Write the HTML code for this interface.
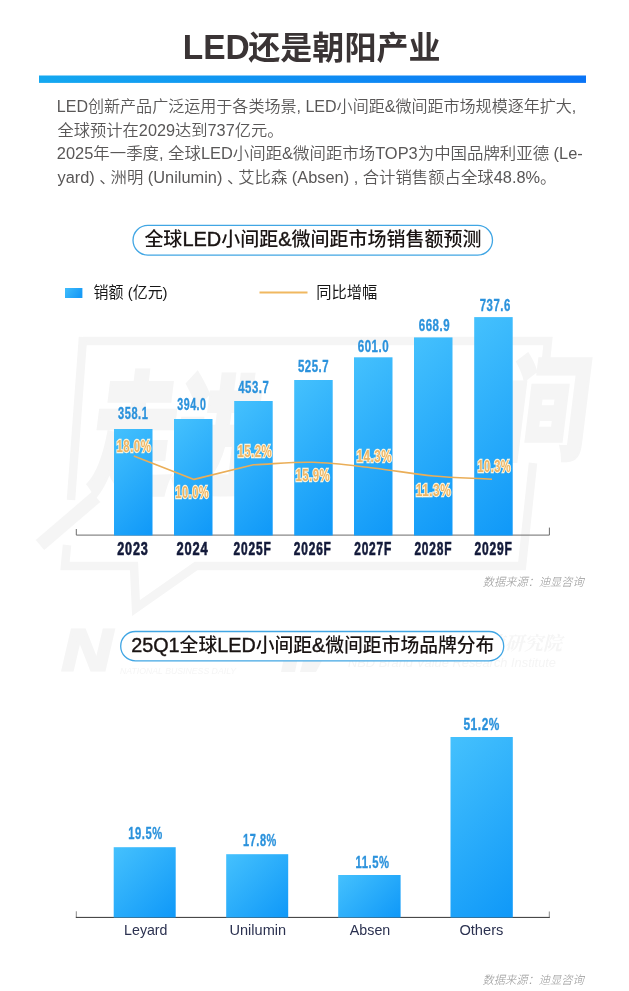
<!DOCTYPE html>
<html lang="zh-CN">
<head>
<meta charset="utf-8">
<title>LED还是朝阳产业</title>
<style>
html,body{margin:0;padding:0;background:#fff;}
body{width:629px;height:991px;overflow:hidden;position:relative;}
svg{position:absolute;left:0;top:0;display:block;}
.sans{font-family:"Liberation Sans","Noto Sans CJK SC",sans-serif;}
.title{font-weight:700;font-size:32px;fill:#3a3435;}
.para{font-size:15.8px;fill:#595757;font-weight:350;}
.pill{font-size:19px;fill:#1a1413;font-weight:500;}
.lt{stroke:#1a1413;stroke-width:.4;font-size:20px;}
.leg{font-size:15.4px;fill:#161616;}
.val{font-weight:700;font-size:16.8px;fill:#2b92dc;stroke:#2b92dc;stroke-width:.35;letter-spacing:.8px;}
.yr{font-weight:700;font-size:17.6px;fill:#131a3a;stroke:#131a3a;stroke-width:.6;letter-spacing:1.2px;}
.pct{font-weight:700;font-size:16.8px;fill:#ecb566;stroke:#fff4da;stroke-width:2.3;paint-order:stroke fill;letter-spacing:.7px;}
.cat{font-size:14.5px;fill:#2b3150;}
.src{font-size:11.6px;fill:#979797;font-style:italic;font-weight:300;}
</style>
</head>
<body>
<svg class="sans" width="629" height="991" viewBox="0 0 629 991">
<defs>
<linearGradient id="hb" x1="0" y1="0" x2="1" y2="0">
<stop offset="0" stop-color="#14a8f0"/><stop offset="1" stop-color="#0a74f6"/>
</linearGradient>
<linearGradient id="bar" x1="0" y1="0" x2="0.3" y2="1">
<stop offset="0" stop-color="#45c1fd"/><stop offset="1" stop-color="#0f98f8"/>
</linearGradient>
<linearGradient id="lg" x1="0" y1="0" x2="1" y2="0.4">
<stop offset="0" stop-color="#40bdfc"/><stop offset="1" stop-color="#189bf6"/>
</linearGradient>
<linearGradient id="b1" gradientUnits="userSpaceOnUse" x1="97.0" y1="446.0" x2="169.5" y2="518.5"><stop offset="0" stop-color="#45c1fd"/><stop offset="1" stop-color="#0f98f8"/></linearGradient>
<linearGradient id="b2" gradientUnits="userSpaceOnUse" x1="154.5" y1="438.5" x2="232.0" y2="516.0"><stop offset="0" stop-color="#45c1fd"/><stop offset="1" stop-color="#0f98f8"/></linearGradient>
<linearGradient id="b3" gradientUnits="userSpaceOnUse" x1="210.2" y1="425.0" x2="296.7" y2="511.5"><stop offset="0" stop-color="#45c1fd"/><stop offset="1" stop-color="#0f98f8"/></linearGradient>
<linearGradient id="b4" gradientUnits="userSpaceOnUse" x1="264.9" y1="409.2" x2="361.9" y2="506.2"><stop offset="0" stop-color="#45c1fd"/><stop offset="1" stop-color="#0f98f8"/></linearGradient>
<linearGradient id="b5" gradientUnits="userSpaceOnUse" x1="319.1" y1="392.2" x2="427.4" y2="500.6"><stop offset="0" stop-color="#45c1fd"/><stop offset="1" stop-color="#0f98f8"/></linearGradient>
<linearGradient id="b6" gradientUnits="userSpaceOnUse" x1="374.1" y1="377.3" x2="492.4" y2="495.6"><stop offset="0" stop-color="#45c1fd"/><stop offset="1" stop-color="#0f98f8"/></linearGradient>
<linearGradient id="b7" gradientUnits="userSpaceOnUse" x1="429.2" y1="362.1" x2="557.7" y2="490.5"><stop offset="0" stop-color="#45c1fd"/><stop offset="1" stop-color="#0f98f8"/></linearGradient>
<linearGradient id="b8" gradientUnits="userSpaceOnUse" x1="111.6" y1="849.3" x2="177.8" y2="915.4"><stop offset="0" stop-color="#45c1fd"/><stop offset="1" stop-color="#0f98f8"/></linearGradient>
<linearGradient id="b9" gradientUnits="userSpaceOnUse" x1="225.9" y1="854.5" x2="288.5" y2="917.2"><stop offset="0" stop-color="#45c1fd"/><stop offset="1" stop-color="#0f98f8"/></linearGradient>
<linearGradient id="b10" gradientUnits="userSpaceOnUse" x1="343.2" y1="870.0" x2="395.6" y2="922.5"><stop offset="0" stop-color="#45c1fd"/><stop offset="1" stop-color="#0f98f8"/></linearGradient>
<linearGradient id="b11" gradientUnits="userSpaceOnUse" x1="420.9" y1="766.5" x2="542.4" y2="888.0"><stop offset="0" stop-color="#45c1fd"/><stop offset="1" stop-color="#0f98f8"/></linearGradient>
</defs>
<rect width="629" height="991" fill="#fff"/>

<!-- header -->
<text class="title" y="59"><tspan x="182.8" font-size="35" textLength="67" lengthAdjust="spacingAndGlyphs">LED</tspan><tspan x="248.3" textLength="192.2" lengthAdjust="spacingAndGlyphs">还是朝阳产业</tspan></text>
<rect x="39" y="75.5" width="547" height="7.4" fill="url(#hb)"/>

<!-- paragraph -->
<text class="para" x="56.8" y="112" textLength="519.5" lengthAdjust="spacingAndGlyphs">LED创新产品广泛运用于各类场景, LED小间距&amp;微间距市场规模逐年扩大,</text>
<text class="para" x="57.5" y="135.7" textLength="226" lengthAdjust="spacingAndGlyphs">全球预计在2029达到737亿元。</text>
<text class="para" x="56.8" y="159.2" textLength="526" lengthAdjust="spacingAndGlyphs">2025年一季度, 全球LED小间距&amp;微间距市场TOP3为中国品牌利亚德 (Le-</text>
<text class="para" x="57.5" y="182.6" textLength="499" lengthAdjust="spacingAndGlyphs">yard) <tspan letter-spacing="-5">、</tspan>洲明 (Unilumin) <tspan letter-spacing="-5">、</tspan>艾比森 (Absen) , 合计销售额占全球48.8%。</text>

<!-- faint watermark -->
<g id="wm" fill="none" stroke="#f5f5f5" stroke-width="8.5" stroke-linejoin="miter">
<path d="M83 341H548L546 360"/>
<path d="M83 337L71 500"/>
<path d="M40 545L96 497" stroke-width="13"/>
<path d="M67 545L65 566H134L136 608L196 566H522L533 463"/>
</g>
<g id="wmtext" fill="#f5f5f5" font-weight="900" font-size="84" font-family="'Liberation Sans','Noto Sans CJK SC',sans-serif">
<text transform="translate(87,484) skewX(-7) scale(1,1.58)" stroke="#f5f5f5" stroke-width="2.5">走进</text>
<text transform="translate(500,451) skewX(-7) scale(1,1.36)" stroke="#f5f5f5" stroke-width="2">间</text>
</g>
<g id="wmlogo" fill="#f5f5f5">
<text x="62" y="670" font-size="58" font-weight="700" font-style="italic" textLength="50" lengthAdjust="spacingAndGlyphs" stroke="#f5f5f5" stroke-width="3">N</text>
<text x="120" y="674" font-size="9.6" font-style="italic" textLength="116" lengthAdjust="spacingAndGlyphs">NATIONAL BUSINESS DAILY</text>
<text x="391" y="650" font-size="19" font-weight="700" font-style="italic" font-family="'Liberation Serif','Noto Serif CJK SC',serif" textLength="171" lengthAdjust="spacingAndGlyphs">每经品牌价值研究院</text>
<text x="348" y="667" font-size="12.6" font-style="italic" textLength="208" lengthAdjust="spacingAndGlyphs">NBD Brand Value Research Institute</text>
<path d="M281 672L284 657H298L295 672ZM304 657H324L316 672H300Z"/>
</g>

<!-- chart 1 -->
<g id="chart1">
<rect x="133" y="225.45" width="359.5" height="29.7" rx="14.85" fill="#fff" stroke="#41a6e4" stroke-width="1.3"/>
<text class="pill" x="144.4" y="246.3" textLength="337" lengthAdjust="spacingAndGlyphs">全球<tspan class="lt">LED</tspan>小间距<tspan class="lt">&amp;</tspan>微间距市场销售额预测</text>

<rect x="65" y="288" width="17.4" height="10" fill="url(#lg)"/>
<text class="leg" x="93.6" y="298.4" textLength="74" lengthAdjust="spacingAndGlyphs">销额 (亿元)</text>
<line x1="259.5" y1="292.5" x2="307.5" y2="292.5" stroke="#f0b860" stroke-width="1.8"/>
<text class="leg" x="316.3" y="298.4" textLength="61" lengthAdjust="spacingAndGlyphs">同比增幅</text>

<path d="M76.3 529V535.1H549.4V527.6" fill="none" stroke="#6c6c6c" stroke-width="1"/>
<g>
<rect x="114" y="429" width="38.5" height="106.5" fill="url(#b1)"/>
<rect x="174" y="419" width="38.5" height="116.5" fill="url(#b2)"/>
<rect x="234.2" y="401" width="38.5" height="134.5" fill="url(#b3)"/>
<rect x="294.2" y="380" width="38.5" height="155.5" fill="url(#b4)"/>
<rect x="354" y="357.3" width="38.5" height="178.2" fill="url(#b5)"/>
<rect x="414" y="337.4" width="38.5" height="198.1" fill="url(#b6)"/>
<rect x="474.2" y="317.1" width="38.5" height="218.4" fill="url(#b7)"/>
</g>

<path d="M133.8 456.1L194 479.4L253.4 464.8C273.3 464 293.1 461.8 313 462.3C332.9 462.8 352.9 465.7 373 468C393.1 470.3 413.7 474.1 433.5 476C453.3 477.9 472.5 478.1 492 479.2" fill="none" stroke="#eaae58" stroke-width="1.6" stroke-linejoin="round"/>
<g id="c1labels">
<text class="val" x="118.1" y="419.2" textLength="30.2" lengthAdjust="spacingAndGlyphs">358.1</text>
<text class="val" x="177.3" y="410.0" textLength="29.2" lengthAdjust="spacingAndGlyphs">394.0</text>
<text class="val" x="238.2" y="393.2" textLength="31.1" lengthAdjust="spacingAndGlyphs">453.7</text>
<text class="val" x="297.9" y="372.1" textLength="31.2" lengthAdjust="spacingAndGlyphs">525.7</text>
<text class="val" x="357.7" y="351.7" textLength="31.6" lengthAdjust="spacingAndGlyphs">601.0</text>
<text class="val" x="418.7" y="330.5" textLength="31.5" lengthAdjust="spacingAndGlyphs">668.9</text>
<text class="val" x="479.7" y="311.1" textLength="31.2" lengthAdjust="spacingAndGlyphs">737.6</text>
<text class="yr" x="117.2" y="555.3" textLength="31.5" lengthAdjust="spacingAndGlyphs">2023</text>
<text class="yr" x="176.4" y="555.3" textLength="32.2" lengthAdjust="spacingAndGlyphs">2024</text>
<text class="yr" x="233.6" y="555.3" textLength="37.9" lengthAdjust="spacingAndGlyphs">2025F</text>
<text class="yr" x="293.8" y="555.3" textLength="37.9" lengthAdjust="spacingAndGlyphs">2026F</text>
<text class="yr" x="354.2" y="555.3" textLength="37.9" lengthAdjust="spacingAndGlyphs">2027F</text>
<text class="yr" x="414.4" y="555.3" textLength="37.9" lengthAdjust="spacingAndGlyphs">2028F</text>
<text class="yr" x="474.6" y="555.3" textLength="38.1" lengthAdjust="spacingAndGlyphs">2029F</text>
<text class="pct" x="116.5" y="451.7" textLength="34.8" lengthAdjust="spacingAndGlyphs">18.0%</text>
<text class="pct" x="175.2" y="497.5" textLength="34.1" lengthAdjust="spacingAndGlyphs">10.0%</text>
<text class="pct" x="237.4" y="456.6" textLength="34.8" lengthAdjust="spacingAndGlyphs">15.2%</text>
<text class="pct" x="295.4" y="481.4" textLength="34.8" lengthAdjust="spacingAndGlyphs">15.9%</text>
<text class="pct" x="356.5" y="462.1" textLength="35.5" lengthAdjust="spacingAndGlyphs">14.3%</text>
<text class="pct" x="415.7" y="496.1" textLength="35.5" lengthAdjust="spacingAndGlyphs">11.3%</text>
<text class="pct" x="477.4" y="472.2" textLength="33.8" lengthAdjust="spacingAndGlyphs">10.3%</text>
<text class="src" x="482.8" y="586.2" textLength="101" lengthAdjust="spacingAndGlyphs">数据来源：迪显咨询</text>
</g>
</g>

<!-- chart 2 -->
<g id="chart2">
<rect x="120.7" y="631.5" width="383" height="29.3" rx="14.65" fill="#fff" stroke="#41a6e4" stroke-width="1.3"/>
<text class="pill" x="131.2" y="652" textLength="363.2" lengthAdjust="spacingAndGlyphs"><tspan class="lt">25Q1</tspan>全球<tspan class="lt">LED</tspan>小间距<tspan class="lt">&amp;</tspan>微间距市场品牌分布</text>

<path d="M76.3 911.3V917.4M549.3 911.5V917.4" fill="none" stroke="#8a8a8a" stroke-width="1"/>
<path d="M75.8 917.4H549.8" fill="none" stroke="#333" stroke-width="1"/>
<g>
<rect x="113.7" y="847.2" width="62" height="70.3" fill="url(#b8)"/>
<rect x="226.2" y="854.2" width="62" height="63.3" fill="url(#b9)"/>
<rect x="338.2" y="875" width="62.4" height="42.5" fill="url(#b10)"/>
<rect x="450.5" y="737" width="62.3" height="180.5" fill="url(#b11)"/>
</g>
<g id="c2labels">
<text class="val" x="128.2" y="838.8" textLength="34.5" lengthAdjust="spacingAndGlyphs">19.5%</text>
<text class="val" x="243.1" y="846.2" textLength="33.7" lengthAdjust="spacingAndGlyphs">17.8%</text>
<text class="val" x="355.6" y="868.2" textLength="34.0" lengthAdjust="spacingAndGlyphs">11.5%</text>
<text class="val" x="463.4" y="730.2" textLength="36.6" lengthAdjust="spacingAndGlyphs">51.2%</text>
<text class="cat" x="124.1" y="934.6" textLength="43.4" lengthAdjust="spacingAndGlyphs">Leyard</text>
<text class="cat" x="229.5" y="934.6" textLength="56.6" lengthAdjust="spacingAndGlyphs">Unilumin</text>
<text class="cat" x="349.8" y="934.6" textLength="40.5" lengthAdjust="spacingAndGlyphs">Absen</text>
<text class="cat" x="459.4" y="934.6" textLength="44" lengthAdjust="spacingAndGlyphs">Others</text>
<text class="src" x="482.4" y="983.5" textLength="101.4" lengthAdjust="spacingAndGlyphs">数据来源：迪显咨询</text>
</g>
</g>
</svg>
</body>
</html>
